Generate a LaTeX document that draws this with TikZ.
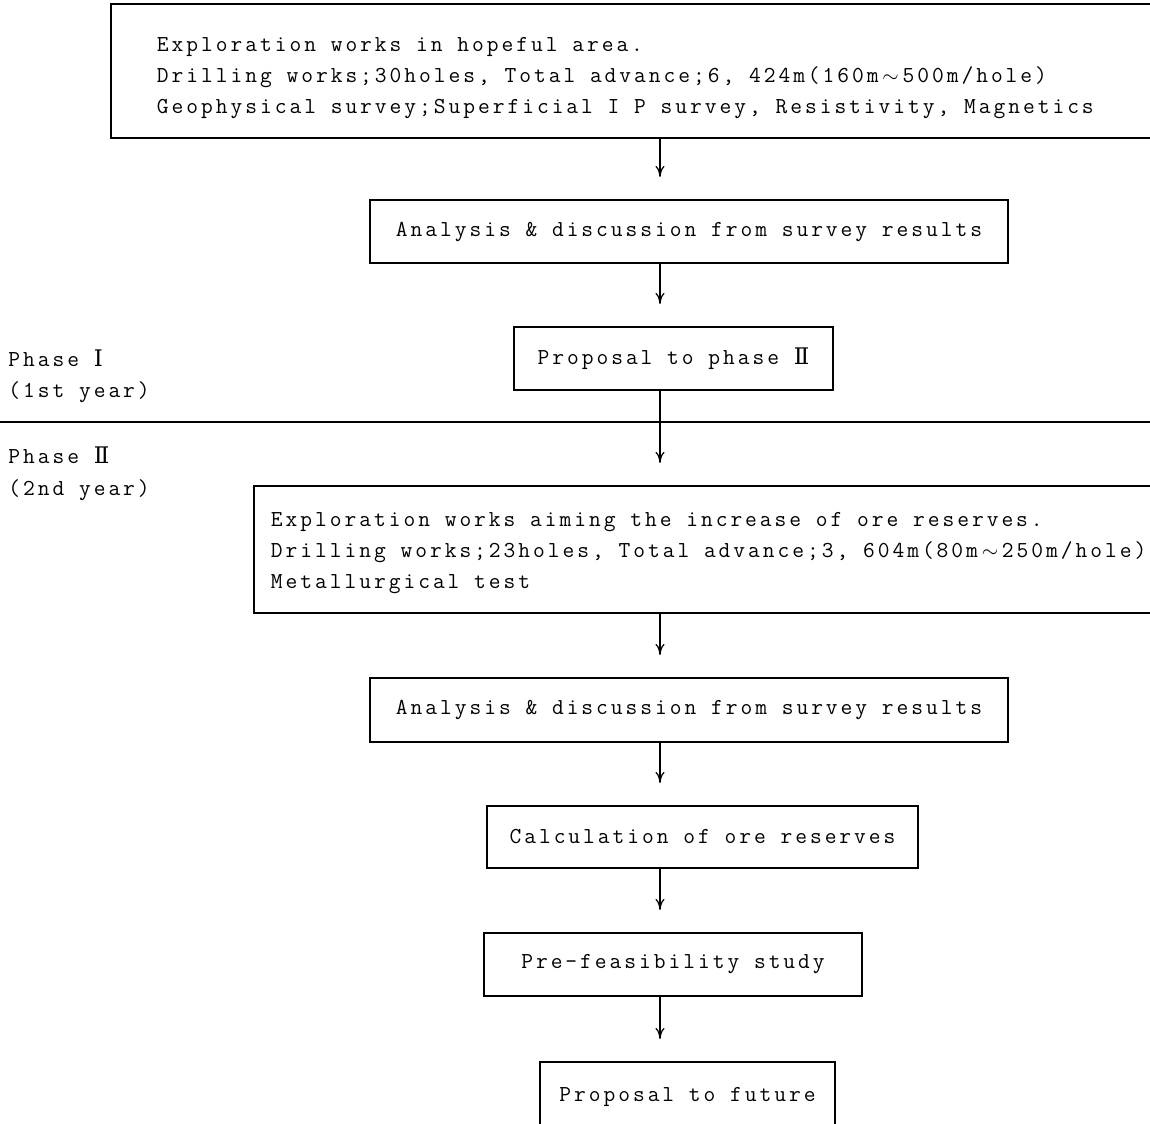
\documentclass[tikz,border=0pt]{standalone}
\usepackage{fontspec}
\setmonofont[LetterSpace=13]{Latin Modern Mono}
\newfontfamily\romfont{DejaVu Serif}
\usetikzlibrary{arrows.meta,positioning}

\begin{document}
\begin{tikzpicture}[x=0.02cm, y=-0.02cm,
  every node/.style={font=\fontsize{13pt}{17.8pt}\selectfont\ttfamily},
  stepbox/.style={draw, line width=1.1pt, inner sep=0pt},
  widebox/.style={draw, line width=1.1pt, anchor=north west, align=left,
    text width=20cm, inner ysep=0pt},
  phaselabel/.style={anchor=base west, inner sep=0pt},
  flow/.style={-{To[length=2.2mm,width=1.8mm]}, line width=0.7pt, shorten >=0.44cm}]

  \newcommand\Rn[1]{{\romfont #1}}
  \newcommand\monosp{\spaceskip=0pt\xspaceskip=0pt\relax}
  \newcommand\wave{\makebox[1.05em]{$\sim$}}

  \useasboundingbox (0,0) rectangle (1150,1124);
  \coordinate (col) at (660,0);

  % first year
  \node[widebox, inner xsep=0.92cm, minimum height=2.68cm] (explA) at (110,3)
    {\monosp\rule{0pt}{16pt}Exploration works in hopeful area.\\
     Drilling works;30holes, Total advance;6, 424m(160m\wave500m/hole)\\
     Geophysical survey;Superficial I P survey, Resistivity, Magnetics};

  \node[stepbox, minimum width=12.76cm, minimum height=1.26cm] (anaA) at (689,231.5)
    {Analysis \& discussion from survey results};
  \node[stepbox, minimum width=6.38cm, minimum height=1.26cm] (propA) at (673.5,358.5)
    {Proposal to phase \Rn{Ⅱ}};

  \node[phaselabel] (phaseA) at (8,367) {Phase \Rn{Ⅰ}};
  \node[phaselabel] (yearA) at (8,398) {(1st year)};

  % dividing line
  \coordinate (divL) at (0,422);
  \coordinate (divR) at (1150,422);
  \draw[line width=0.8pt] (divL) -- (divR);

  % second year
  \node[phaselabel] (phaseB) at (8,464) {Phase \Rn{Ⅱ}};
  \node[phaselabel] (yearB) at (8,496) {(2nd year)};

  \node[widebox, inner xsep=0.34cm, minimum height=2.54cm] (explB) at (253,485)
    {\monosp\rule{0pt}{12pt}Exploration works aiming the increase of ore reserves.\\
     Drilling works;23holes, Total advance;3, 604m(80m\wave250m/hole)\\
     Metallurgical test};

  \node[stepbox, minimum width=12.76cm, minimum height=1.28cm] (anaB) at (689,710)
    {Analysis \& discussion from survey results};
  \node[stepbox, minimum width=8.62cm, minimum height=1.24cm] (calc) at (702.5,837)
    {Calculation of ore reserves};
  \node[stepbox, minimum width=7.56cm, minimum height=1.26cm] (prefs) at (673,964.5)
    {Pre-feasibility study};
  \node[stepbox, minimum width=5.9cm, minimum height=1.4cm] (propB) at (687.5,1097)
    {Proposal to future};

  % arrows
  \draw[flow] (explA.south -| col) -- (anaA.north -| col);
  \draw[flow] (anaA.south -| col) -- (propA.north -| col);
  \draw[flow] (propA.south -| col) -- (explB.north -| col);
  \draw[flow] (explB.south -| col) -- (anaB.north -| col);
  \draw[flow] (anaB.south -| col) -- (calc.north -| col);
  \draw[flow] (calc.south -| col) -- (prefs.north -| col);
  \draw[flow] (prefs.south -| col) -- (propB.north -| col);

\end{tikzpicture}
\end{document}
